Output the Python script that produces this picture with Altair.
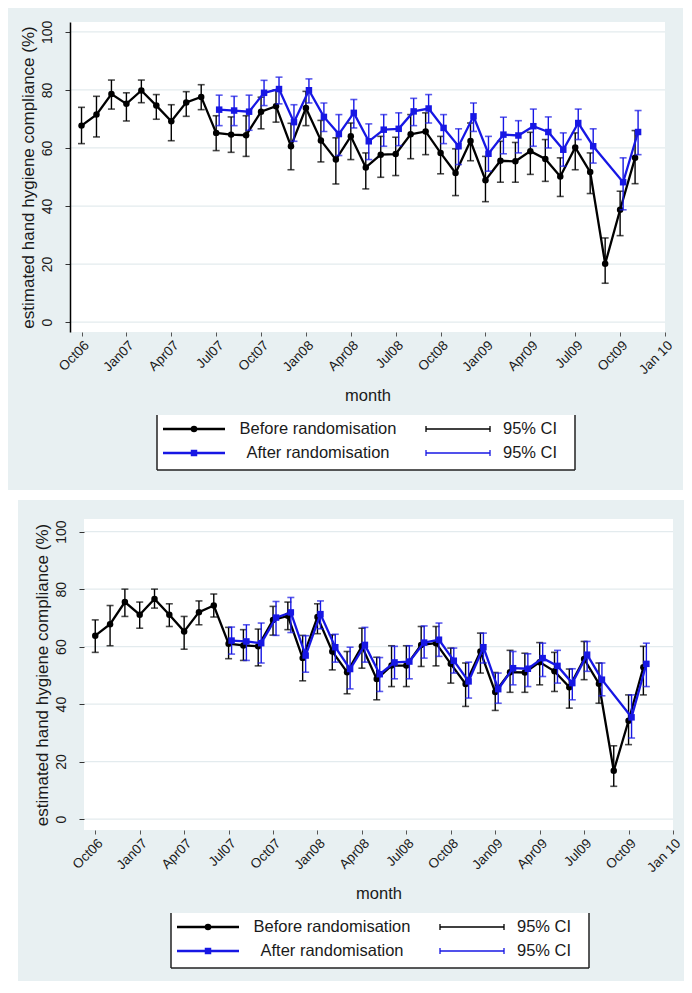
import json
import altair as alt
import pandas as pd

# ---------------- data ----------------
MONTH_LABELS = ["Oct06", "Jan07", "Apr07", "Jul07", "Oct07", "Jan08", "Apr08",
                "Jul08", "Oct08", "Jan09", "Apr09", "Jul09", "Oct09", "Jan 10"]
MONTHS_PER_LABEL = 3

# Panel 1
p1_before_est = [67.7, 71.5, 78.6, 75.2, 79.8, 74.6, 69.2, 75.7, 77.6, 65.2,
                 64.6, 64.4, 72.5, 74.4, 60.6, 73.8, 62.6, 56.0, 64.0, 53.3,
                 57.7, 57.9, 64.7, 65.7, 58.3, 51.4, 62.4, 48.9, 55.6, 55.4,
                 58.9, 56.2, 50.2, 60.2, 51.7, 20.1, 38.7, 56.6]
p1_before_lo = [61.5, 63.8, 73.4, 69.3, 75.6, 69.9, 62.5, 70.9, 73.2, 59.1,
                58.5, 57.1, 66.6, 68.9, 52.5, 67.7, 55.2, 47.6, 56.0, 45.9,
                49.9, 50.5, 56.3, 57.7, 51.1, 43.6, 55.6, 41.5, 48.2, 48.2,
                50.9, 48.5, 43.3, 52.5, 44.3, 13.4, 29.8, 47.7]
p1_before_hi = [74.0, 77.8, 83.4, 79.0, 83.4, 78.4, 74.9, 79.4, 81.8, 71.1,
                70.7, 71.1, 77.5, 80.0, 68.5, 79.5, 69.5, 63.5, 68.6, 58.3,
                64.0, 63.7, 71.5, 72.1, 64.0, 59.7, 68.6, 57.1, 62.3, 61.9,
                65.4, 62.9, 56.6, 65.2, 58.3, 29.0, 45.1, 66.0]
p1_after_est = [None] * 9 + [73.2, 72.9, 72.5, 79.0, 80.3, 68.9, 79.9, 70.7, 64.8, 72.1,
                             62.3, 66.3, 66.6, 72.6, 73.6, 66.9, 60.6, 70.9, 58.0, 64.6,
                             64.3, 67.5, 65.5, 59.4, 68.6, 60.6, None, 48.2, 65.5]
p1_after_lo = [None] * 9 + [67.7, 67.7, 66.1, 74.6, 75.2, 62.3, 75.5, 65.7, 57.4, 66.9,
                            56.0, 60.6, 60.8, 67.7, 68.6, 61.5, 54.3, 65.7, 52.0, 58.0,
                            58.3, 60.6, 60.0, 53.7, 62.9, 54.8, None, 38.7, 57.7]
p1_after_hi = [None] * 9 + [78.2, 77.8, 78.2, 83.3, 84.4, 74.9, 83.8, 75.5, 71.5, 76.7,
                            68.3, 71.5, 72.1, 77.1, 78.4, 71.5, 66.6, 75.5, 64.0, 70.6,
                            69.4, 73.4, 70.7, 65.2, 73.4, 66.6, None, 56.6, 72.9]

# Panel 2
p2_before_est = [63.8, 67.8, 75.5, 71.1, 76.6, 71.1, 65.3, 72.0, 74.3, 61.0,
                 60.4, 60.1, 69.3, 70.7, 56.0, 70.3, 58.3, 51.1, 60.1, 48.7,
                 53.4, 53.4, 60.6, 61.2, 54.0, 47.0, 58.3, 44.2, 51.1, 51.0,
                 54.6, 51.4, 45.9, 55.7, 47.1, 16.8, 34.2, 52.8]
p2_before_lo = [58.0, 60.3, 70.5, 66.4, 73.4, 67.0, 59.1, 67.6, 70.3, 55.8,
                55.2, 53.3, 64.0, 65.9, 48.1, 64.5, 51.9, 43.6, 52.5, 41.5,
                46.1, 46.1, 53.1, 53.3, 47.3, 39.2, 50.8, 37.8, 44.1, 44.1,
                46.7, 44.4, 38.6, 48.5, 40.3, 11.4, 25.9, 43.2]
p2_before_hi = [69.3, 74.3, 80.0, 75.5, 80.0, 74.9, 70.5, 75.9, 78.3, 66.7,
                65.9, 66.1, 74.0, 75.5, 63.9, 74.9, 64.1, 58.3, 66.4, 56.3,
                60.3, 60.3, 67.0, 67.0, 59.5, 54.3, 64.7, 51.0, 58.7, 57.7,
                61.4, 58.0, 52.2, 61.8, 54.3, 25.5, 43.2, 60.1]
p2_after_est = [None] * 9 + [62.1, 61.8, 61.2, 70.1, 71.9, 56.9, 71.3, 59.8, 52.2, 60.6,
                             50.4, 54.5, 54.8, 61.4, 62.4, 55.1, 47.9, 59.8, 45.2, 52.5,
                             52.3, 56.0, 53.3, 47.3, 57.2, 48.5, None, 35.4, 54.0]
p2_after_lo = [None] * 9 + [57.4, 55.2, 54.3, 63.9, 64.9, 51.1, 66.2, 54.6, 45.3, 54.6,
                            44.4, 48.8, 48.8, 56.0, 56.6, 50.8, 42.1, 54.3, 40.3, 46.7,
                            46.1, 49.6, 47.3, 41.5, 51.4, 42.9, None, 28.2, 46.1]
p2_after_hi = [None] * 9 + [66.8, 67.6, 68.2, 75.7, 77.1, 63.8, 75.9, 64.3, 59.8, 66.7,
                            56.2, 60.1, 60.3, 67.2, 68.2, 59.5, 54.6, 64.7, 50.8, 58.3,
                            57.5, 61.2, 58.7, 52.3, 61.8, 54.3, None, 43.2, 61.2]

Y_TICKS = [0, 20, 40, 60, 80, 100]
LEGEND_TEXT = ["Before randomisation", "After randomisation"]
CI_TEXT = "95% CI"
Y_TITLE = "estimated hand hygiene compliance (%)"
X_TITLE = "month"

# ---------------- style / layout ----------------
FONT = "Liberation Sans"
BG = "#e8f0f2"
GRID = "#e3ebee"
BLACK = "#000000"
BLUE = "#1717e4"
TEXT = "#1a1a1a"

VIEW_W, VIEW_H = 614, 959          # one canvas holding both panels

ONE = pd.DataFrame({"k": [0]})


def frame(est, lo, hi):
    rows = [{"m": i, "est": e, "lo": l, "hi": h}
            for i, (e, l, h) in enumerate(zip(est, lo, hi)) if e is not None]
    return pd.DataFrame(rows)


def deco_rect(x, x2, y, y2, color):
    return alt.Chart(ONE).mark_rect(color=color).encode(
        x=alt.value(x), x2=alt.value(x2), y=alt.value(y), y2=alt.value(y2))


def vrule(x, y, y2, **kw):
    return alt.Chart(ONE).mark_rule(**kw).encode(x=alt.value(x), y=alt.value(y), y2=alt.value(y2))


def hrule(x, x2, y, **kw):
    return alt.Chart(ONE).mark_rule(**kw).encode(x=alt.value(x), x2=alt.value(x2), y=alt.value(y))


def panel(before, after, x_range, y_range, xdom, ydom, axis_line):
    xscale = alt.Scale(domain=xdom, range=x_range, nice=False, zero=False)
    yscale = alt.Scale(domain=ydom, range=y_range, nice=False, zero=False)
    tick_vals = [i * MONTHS_PER_LABEL for i in range(len(MONTH_LABELS))]
    xaxis = alt.Axis(orient="bottom", offset=y_range[0] - VIEW_H, zindex=1,
                     values=tick_vals,
                     labelExpr=f"{json.dumps(MONTH_LABELS)}[round(datum.value / {MONTHS_PER_LABEL})]",
                     labelAngle=-45, labelAlign="right", labelBaseline="top",
                     labelFontSize=13.5, labelColor=TEXT, labelPadding=2,
                     tickSize=4, tickColor="#555", domain=False, grid=False,
                     title=X_TITLE, titleFontSize=16.5, titleFontWeight="normal",
                     titleColor=TEXT, titlePadding=11)
    yaxis = alt.Axis(orient="left", offset=-x_range[0], zindex=1,
                     values=Y_TICKS, labelAngle=-90, labelAlign="center",
                     labelBaseline="bottom", labelFontSize=14, labelColor=TEXT,
                     labelPadding=11, tickSize=5, tickColor="#333",
                     domain=axis_line, domainColor=BLACK, domainWidth=1.5,
                     grid=False,
                     title=Y_TITLE, titleFontSize=17, titleFontWeight="normal",
                     titleColor=TEXT, titlePadding=3)

    def X():
        return alt.X("m:Q", scale=xscale, axis=xaxis)

    def Y(f):
        return alt.Y(f"{f}:Q", scale=yscale, axis=yaxis)

    grid = alt.Chart(pd.DataFrame({"g": Y_TICKS})).mark_rule(
        color=GRID, strokeWidth=1.3).encode(
        y=Y("g"), x=alt.value(x_range[0]), x2=alt.value(x_range[1]))

    def series_layers(df, color, shape, off):
        base = alt.Chart(df)
        rule = base.mark_rule(color=color, strokeWidth=1.4, xOffset=off).encode(
            x=X(), y=Y("lo"), y2="hi:Q")
        cap_lo = base.mark_tick(color=color, orient="horizontal", size=7,
                                thickness=1.6, xOffset=off).encode(x=X(), y=Y("lo"))
        cap_hi = base.mark_tick(color=color, orient="horizontal", size=7,
                                thickness=1.6, xOffset=off).encode(x=X(), y=Y("hi"))
        line = base.mark_line(color=color, strokeWidth=2.3, xOffset=off).encode(
            x=X(), y=Y("est"))
        pts = base.mark_point(color=color, filled=True, opacity=1, shape=shape,
                              size=42, xOffset=off).encode(x=X(), y=Y("est"))
        return [rule, cap_lo, cap_hi, line, pts]

    layers = [grid]
    layers += series_layers(frame(*before), BLACK, "circle", 0)
    layers += series_layers(frame(*after), BLUE, "square", 3)
    return alt.layer(*layers)


def legend(px0, pbottom):
    bx0, bx1 = px0 + 87, px0 + 505
    by0, by1 = pbottom + 83, pbottom + 138
    rows = [pbottom + 97, pbottom + 121]
    out = [deco_rect(bx0, bx1, by0, by1, "white")]
    edge = dict(color="#222", strokeWidth=1.5)
    out += [vrule(bx0, by0, by1, **edge), vrule(bx1, by0, by1, **edge),
            hrule(bx0, bx1, by1, **edge)]
    for ry, color, shape, label in zip(rows, [BLACK, BLUE], ["circle", "square"], LEGEND_TEXT):
        out.append(hrule(px0 + 93, px0 + 155, ry, color=color, strokeWidth=2.3))
        out.append(alt.Chart(ONE).mark_point(color=color, filled=True, opacity=1,
                                             shape=shape, size=42).encode(
            x=alt.value(px0 + 124), y=alt.value(ry)))
        out.append(alt.Chart(ONE).mark_text(font=FONT, fontSize=16.5, color=TEXT,
                                            align="center", baseline="middle").encode(
            x=alt.value(px0 + 248), y=alt.value(ry), text=alt.value(label)))
        out.append(hrule(px0 + 356, px0 + 420, ry, color=color, strokeWidth=1.3))
        for cx in (px0 + 356, px0 + 420):
            out.append(vrule(cx, ry - 3, ry + 3, color=color, strokeWidth=1.3))
        out.append(alt.Chart(ONE).mark_text(font=FONT, fontSize=16.5, color=TEXT,
                                            align="left", baseline="middle").encode(
            x=alt.value(px0 + 433), y=alt.value(ry), text=alt.value(CI_TEXT)))
    return out


# plot rectangles (canvas pixels)
P1_X, P1_Y = [0, 595], [310, 0]
P2_X, P2_Y = [14, 603], [808, 497]

panel1 = panel((p1_before_est, p1_before_lo, p1_before_hi),
               (p1_after_est, p1_after_lo, p1_after_hi),
               P1_X, P1_Y, [-0.77, 39.0], [-3.4, 103.4], True)
panel2 = panel((p2_before_est, p2_before_lo, p2_before_hi),
               (p2_after_est, p2_after_lo, p2_after_hi),
               P2_X, P2_Y, [-0.76, 39.0], [-3.8, 104.4], False)

backgrounds = [
    deco_rect(-62, 613, -14, 468, BG),                       # panel 1 graph region
    deco_rect(-52, VIEW_W, 478, VIEW_H, BG),                 # panel 2 graph region
    deco_rect(P1_X[0], P1_X[1], P1_Y[1], P1_Y[0], "white"),  # panel 1 plot region
    deco_rect(P2_X[0], P2_X[1], P2_Y[1], P2_Y[0], "white"),  # panel 2 plot region
]

chart = alt.layer(
    alt.layer(*backgrounds),
    alt.layer(panel1, panel2).resolve_scale(x="independent", y="independent"),
    alt.layer(*(legend(P1_X[0], P1_Y[0]) + legend(P2_X[0], P2_Y[0]))),
).properties(
    width=VIEW_W, height=VIEW_H, background="white", padding=0
).configure(font=FONT).configure_view(stroke=None)

chart.save("out.html", embed_options={"renderer": "svg", "actions": False})
